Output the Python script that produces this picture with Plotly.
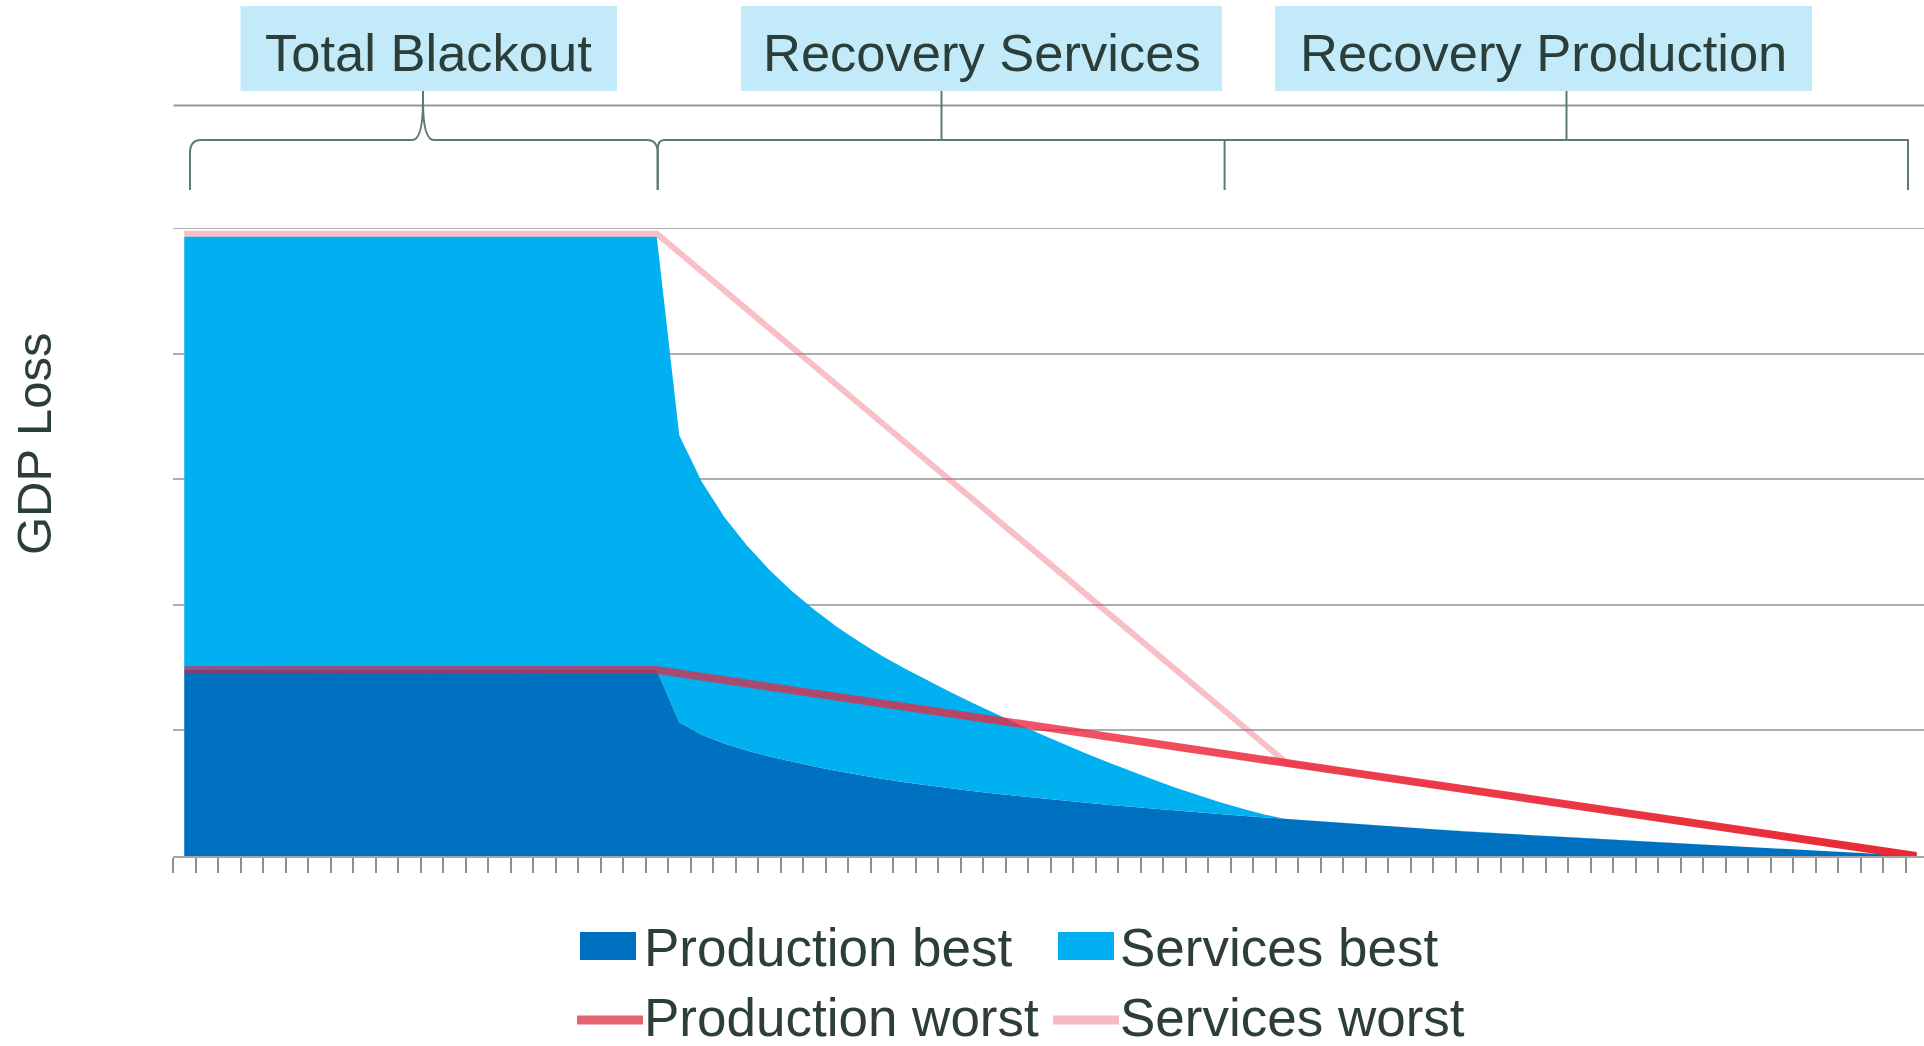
import plotly.graph_objects as go

# ---------------- data ----------------
categories = list(range(78))  # time steps (no tick labels in the original)

production_best = [
    29.6, 29.6, 29.6, 29.6, 29.6, 29.6, 29.6, 29.6, 29.6, 29.6,
    29.6, 29.6, 29.6, 29.6, 29.6, 29.6, 29.6, 29.6, 29.6, 29.6,
    29.6, 29.6, 21.3, 19.3, 17.9, 16.8, 15.85, 15.0, 14.25, 13.55,
    12.9, 12.3, 11.75, 11.25, 10.8, 10.35, 9.95, 9.57, 9.2, 8.85,
    8.51, 8.18, 7.86, 7.55, 7.25, 6.96, 6.68, 6.41, 6.15, 5.9,
    5.62, 5.35, 5.09, 4.84, 4.6, 4.37, 4.14, 3.92, 3.7, 3.49,
    3.28, 3.08, 2.88, 2.68, 2.49, 2.3, 2.11, 1.92, 1.73, 1.55,
    1.37, 1.19, 1.01, 0.83, 0.65, 0.45, 0.23, 0.0,
]

services_best = [
    69.0, 69.0, 69.0, 69.0, 69.0, 69.0, 69.0, 69.0, 69.0, 69.0,
    69.0, 69.0, 69.0, 69.0, 69.0, 69.0, 69.0, 69.0, 69.0, 69.0,
    69.0, 69.0, 45.7, 40.3, 36.1, 32.7, 29.75, 27.2, 24.95, 22.95,
    21.2, 19.6, 18.15, 16.75, 15.4, 14.1, 12.8, 11.53, 10.3, 9.1,
    7.94, 6.82, 5.74, 4.7, 3.7, 2.79, 1.92, 1.14, 0.45, 0.0,
    0.0, 0.0, 0.0, 0.0, 0.0, 0.0, 0.0, 0.0, 0.0, 0.0,
    0.0, 0.0, 0.0, 0.0, 0.0, 0.0, 0.0, 0.0, 0.0, 0.0,
    0.0, 0.0, 0.0, 0.0, 0.0, 0.0, 0.0, 0.0,
]

# worst cases are straight segments: only their vertices are read
production_worst_x = [0, 21, 77]
production_worst = [29.6, 29.6, 0.0]

services_worst_x = [0, 21, 49, 77]
services_worst = [99.1, 99.1, 14.8, 0.0]

phase_labels = ["Total Blackout", "Recovery Services", "Recovery Production"]
legend_labels = ["Production best", "Services best", "Production worst", "Services worst"]
y_title = "GDP Loss"

# ---------------- styles ----------------
W, H = 1924, 1046
ML, MR, MT, MB = 173, 0, 228, 190
PW, PH = W - ML - MR, H - MT - MB
STEP = 22.5  # pixels per category
Y_MAX = 100

C_PROD = "#0070C0"
C_SERV = "#00B0F0"
C_SWORST = "rgba(236,90,105,0.38)"
C_TEXT = "#2C3E3A"
C_BRACKET = "#5E7B73"
C_BOX = "#C3EAF9"
C_GRID = "#AEAEAE"
FONT = "Liberation Sans, Arial, Helvetica, sans-serif"
PWORST_HALF_PX = 4.0  # half line thickness in pixels


def px(x):
    return (x - ML) / PW


def py(y):
    return (H - MB - y) / PH


fig = go.Figure()

fig.add_trace(go.Scatter(
    x=categories, y=production_best, name=legend_labels[0],
    stackgroup="best", mode="lines", line=dict(width=0, color=C_PROD),
    fillcolor=C_PROD, showlegend=False, hoverinfo="skip"))
fig.add_trace(go.Scatter(
    x=categories, y=services_best, name=legend_labels[1],
    stackgroup="best", mode="lines", line=dict(width=0, color=C_SERV),
    fillcolor=C_SERV, showlegend=False, hoverinfo="skip"))
fig.add_trace(go.Scatter(
    x=services_worst_x, y=services_worst, name=legend_labels[3],
    mode="lines", line=dict(width=6, color=C_SWORST),
    showlegend=False, cliponaxis=False, hoverinfo="skip"))

# production worst: a thick line whose opacity grows from left to right
half = PWORST_HALF_PX * Y_MAX / PH
band_x = production_worst_x + production_worst_x[::-1]
band_y = [v + half for v in production_worst] + [v - half for v in production_worst[::-1]]
fig.add_trace(go.Scatter(
    x=band_x, y=band_y, name=legend_labels[2], mode="lines",
    line=dict(width=0), fill="toself",
    fillgradient=dict(type="horizontal",
                      colorscale=[[0, "rgba(236,24,56,0.56)"],
                                  [0.5, "rgba(236,40,62,0.8)"],
                                  [1, "rgba(232,42,52,1)"]]),
    showlegend=False, cliponaxis=False, hoverinfo="skip"))

shapes = []
annotations = []

# top gridline (the range end)
shapes.append(dict(type="line", xref="paper", yref="y", x0=0, x1=1,
                   y0=Y_MAX, y1=Y_MAX, line=dict(color=C_GRID, width=2),
                   layer="below"))

# top rule
shapes.append(dict(type="line", xref="paper", yref="paper",
                   x0=px(173.6), x1=px(1924), y0=py(105.5), y1=py(105.5),
                   line=dict(color="#8E9C98", width=2), layer="above"))


def path_from(points_cmds):
    out = []
    for cmd, *coords in points_cmds:
        pts = []
        for i in range(0, len(coords), 2):
            pts.append(f"{px(coords[i]):.6f},{py(coords[i + 1]):.6f}")
        out.append(cmd + " " + " ".join(pts))
    return " ".join(out)


# curly brace for Total Blackout
brace = path_from([
    ("M", 190, 190), ("L", 190, 153), ("Q", 190, 140, 201, 140),
    ("L", 412, 140), ("Q", 423, 140, 423, 101),
    ("Q", 423, 140, 434, 140), ("L", 647, 140),
    ("Q", 657.7, 140, 657.7, 153), ("L", 657.7, 190),
])
shapes.append(dict(type="path", xref="paper", yref="paper", path=brace,
                   line=dict(color=C_BRACKET, width=2), layer="above"))
shapes.append(dict(type="line", xref="paper", yref="paper",
                   x0=px(423), x1=px(423), y0=py(101), y1=py(91),
                   line=dict(color=C_BRACKET, width=2), layer="above"))

# square brackets for the recovery phases
sq = path_from([
    ("M", 657.7, 190), ("L", 657.7, 150), ("Q", 657.7, 140, 664, 140),
    ("L", 1908, 140), ("L", 1908, 190),
])
shapes.append(dict(type="path", xref="paper", yref="paper", path=sq,
                   line=dict(color=C_BRACKET, width=2), layer="above"))
for xv, y0, y1 in [(1224.6, 140, 190), (941.5, 91, 140), (1566.5, 91, 140)]:
    shapes.append(dict(type="line", xref="paper", yref="paper",
                       x0=px(xv), x1=px(xv), y0=py(y0), y1=py(y1),
                       line=dict(color=C_BRACKET, width=2), layer="above"))

# label boxes
boxes = [(240.5, 617), (741, 1222), (1275, 1812)]
for (x0, x1), label in zip(boxes, phase_labels):
    shapes.append(dict(type="rect", xref="paper", yref="paper",
                       x0=px(x0), x1=px(x1), y0=py(91), y1=py(6),
                       fillcolor=C_BOX, line=dict(width=0), layer="above"))
    annotations.append(dict(text=label, xref="paper", yref="paper",
                            x=px((x0 + x1) / 2), y=py(52), xanchor="center",
                            yanchor="middle", showarrow=False,
                            font=dict(family=FONT, size=52.5, color=C_TEXT)))

# y-axis title
annotations.append(dict(text=y_title, xref="paper", yref="paper",
                        x=px(34), y=py(444), xanchor="center", yanchor="middle",
                        textangle=-90, showarrow=False,
                        font=dict(family=FONT, size=49, color=C_TEXT)))

# legend (drawn manually to match the large swatches)
for (x0, x1), col in [((580, 636), C_PROD), ((1058, 1114), C_SERV)]:
    shapes.append(dict(type="rect", xref="paper", yref="paper",
                       x0=px(x0), x1=px(x1), y0=py(960), y1=py(932),
                       fillcolor=col, line=dict(width=0), layer="above"))
for (x0, x1), col in [((577, 643), "#E4646F"), ((1053, 1119), "#F5B9C1")]:
    shapes.append(dict(type="line", xref="paper", yref="paper",
                       x0=px(x0), x1=px(x1), y0=py(1020), y1=py(1020),
                       line=dict(color=col, width=9), layer="above"))

for label, (xl, yc) in zip(legend_labels,
                           [(642, 947), (1118, 947), (642, 1017), (1118, 1017)]):
    annotations.append(dict(text=label, xref="paper", yref="paper",
                            x=px(xl), y=py(yc), xanchor="left", yanchor="middle",
                            showarrow=False,
                            font=dict(family=FONT, size=53, color=C_TEXT)))

fig.update_layout(
    width=W, height=H,
    margin=dict(l=ML, r=MR, t=MT, b=MB, pad=0),
    paper_bgcolor="white", plot_bgcolor="white",
    showlegend=False,
    shapes=shapes, annotations=annotations,
    xaxis=dict(range=[-0.5, -0.5 + PW / STEP], showgrid=False, zeroline=False,
               showline=True, linecolor="#A6A6A6", linewidth=2,
               ticks="outside", tickmode="linear", tick0=-0.5, dtick=1,
               ticklen=15, tickwidth=2, tickcolor="#8F8F8F",
               showticklabels=False, fixedrange=True),
    yaxis=dict(range=[0, Y_MAX], showgrid=True, gridcolor=C_GRID, gridwidth=2,
               tickmode="linear", tick0=0, dtick=20, zeroline=False,
               showline=False, showticklabels=False, ticks="", fixedrange=True),
)

fig.write_html("out.html")
